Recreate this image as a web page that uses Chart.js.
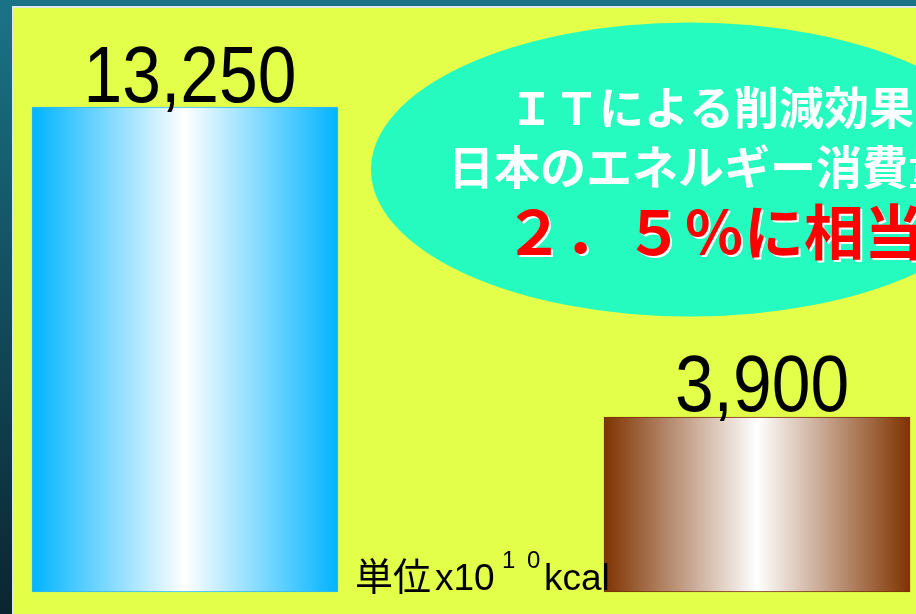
<!DOCTYPE html>
<html lang="ja">
<head>
<meta charset="utf-8">
<script src="https://cdn.jsdelivr.net/npm/chart.js@4.4.1/dist/chart.umd.min.js"></script>
<style>
	html, body { margin: 0; padding: 0; background: #0f3c49; }
	#wrap { width: 916px; height: 614px; position: relative; }
</style>
</head>
<body>
<div id="wrap"><canvas id="chart" width="916" height="614"></canvas></div>
<script>
	'use strict';

	// data
	const categories = ['ITによる削減前', '', 'ITによる削減効果'];
	const values = [13250, null, 3900];
	const barEdge = ['#00b4ff', null, '#7f3300'];
	const barLine = ['#2cbcef', null, '#7a3000'];
	const titleLines = ['ＩＴによる削減効果は', '日本のエネルギー消費量の'];
	const highlight = '２．５％に相当';
	const unitMain = '単位';

	const BAR_W = 306;
	const Y_MIN = -1380;

	function barFill(ctx) {
		const chart = ctx.chart;
		const i = ctx.dataIndex;
		const edge = barEdge[i] || '#000';
		if (!chart.chartArea || !chart.scales.x) return edge;
		const cx = chart.scales.x.getPixelForValue(i);
		const g = chart.ctx.createLinearGradient(cx - BAR_W / 2, 0, cx + BAR_W / 2, 0);
		g.addColorStop(0, edge);
		g.addColorStop(0.5, '#ffffff');
		g.addColorStop(1, edge);
		return g;
	}

	const backdrop = {
		id: 'backdrop',
		beforeDraw(chart) {
			const c = chart.ctx;
			const w = chart.width, h = chart.height;
			c.save();
			const g = c.createLinearGradient(0, 0, 0, h);
			g.addColorStop(0, '#1b7387');
			g.addColorStop(1, '#0a2530');
			c.fillStyle = g;
			c.fillRect(0, 0, w, h);
			c.fillStyle = '#dfe9ec';
			c.fillRect(12, 6, w - 12, h - 6);
			c.fillStyle = '#e3ff4a';
			c.fillRect(13, 8, w - 13, h - 8);
			c.restore();
		},
	};

	const bubble = {
		id: 'bubble',
		beforeDatasetsDraw(chart) {
			const c = chart.ctx;
			c.save();
			c.beginPath();
			c.ellipse(690, 169.5, 319, 147, 0, 0, Math.PI * 2);
			c.fillStyle = '#26fbbf';
			c.fill();

			c.textAlign = 'left';
			c.textBaseline = 'alphabetic';
			c.fillStyle = '#ffffff';
			c.font = 'bold 45px "Noto Sans CJK JP"';
			c.fillText(titleLines[0], 509, 125);
			c.font = 'bold 46px "Noto Sans CJK JP"';
			c.fillText(titleLines[1], 448, 184);

			c.font = 'bold 60px "Noto Sans CJK JP"';
			c.fillStyle = '#ffffff';
			c.fillText(highlight, 506, 257);
			c.fillStyle = '#ff0000';
			c.fillText(highlight, 504, 255);
			c.restore();
		},
	};

	const valueLabels = {
		id: 'valueLabels',
		afterDatasetsDraw(chart, args, opts) {
			const c = chart.ctx;
			const meta = chart.getDatasetMeta(0);
			c.save();
			c.fillStyle = '#000';
			c.textAlign = 'center';
			c.textBaseline = 'alphabetic';
			c.font = '80px "Liberation Sans", Arial, sans-serif';
			meta.data.forEach((el, i) => {
				const v = values[i];
				if (v == null) return;
				const gap = opts.gaps[i] || 6;
				c.save();
				c.translate(el.x + 5, el.y - gap);
				c.scale(0.87, 1);
				c.fillText(v.toLocaleString('en-US'), 0, 0);
				c.restore();
			});

			// unit label
			c.textAlign = 'left';
			c.font = '38px "Noto Sans CJK JP"';
			c.fillText(unitMain, 355, 590);
			c.font = '37px "Liberation Sans", Arial, sans-serif';
			c.fillText('x10', 435, 590);
			c.font = '24px "Liberation Sans", Arial, sans-serif';
			c.fillText('1', 502, 568);
			c.fillText('0', 527, 568);
			c.font = '37px "Liberation Sans", Arial, sans-serif';
			c.fillText('kcal', 544, 590);
			c.restore();
		},
	};

	new Chart(document.getElementById('chart'), {
		type: 'bar',
		data: {
			labels: categories,
			datasets: [{
				data: values,
				base: Y_MIN,
				backgroundColor: barFill,
				borderColor: (ctx) => barLine[ctx.dataIndex] || '#000',
				borderWidth: 1,
				borderSkipped: false,
				barThickness: BAR_W,
				clip: false,
			}],
		},
		options: {
			responsive: false,
			animation: false,
			layout: { padding: { left: 42, right: 16, top: 8, bottom: 22 } },
			plugins: {
				legend: { display: false },
				tooltip: { enabled: false },
				valueLabels: { gaps: [5, 14] },
			},
			scales: {
				x: { display: false, grid: { display: false } },
				y: { display: false, min: Y_MIN, max: 16240, grid: { display: false } },
			},
		},
		plugins: [backdrop, bubble, valueLabels],
	});
</script>
</body>
</html>
